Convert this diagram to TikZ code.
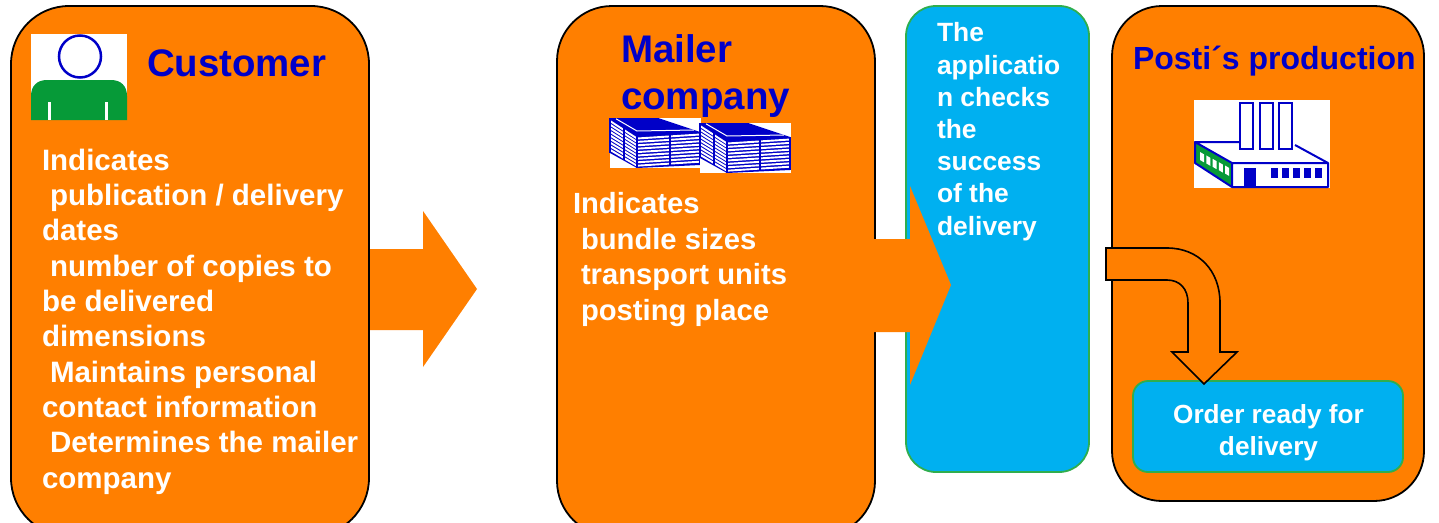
\documentclass[tikz,border=0pt]{standalone}
\usepackage{fontspec}
\setmainfont{Liberation Sans}
\definecolor{orangeF}{HTML}{FF7F00}
\definecolor{skyF}{HTML}{00B0F0}
\definecolor{greenB}{HTML}{2FAE4E}
\definecolor{greenF}{HTML}{069A38}
\definecolor{navyT}{HTML}{0000C8}
\newcommand{\fsz}[2]{\fontsize{#1}{#2}\selectfont\bfseries}
\newcommand{\ind}{\hspace*{8pt}}
\newcommand{\bundlepic}[2]{%
  \begin{scope}[shift={(#1,#2)}]
    \fill[white] (0,0) rectangle (91,50);
    \fill[navyT] (0,0) -- (48,0) -- (90,14) -- (90,47) -- (27,50) -- (0,35) -- cycle;
    \foreach \k in {0,1,...,8}{
      \draw[white,line width=1.9pt] (0,3+3.6*\k) -- (27,20.5+3.4*\k) -- (90,16.5+3.4*\k);
    }
    \draw[white,line width=1pt] (6,0.8) -- (27,13) -- (84,12);
    \draw[navyT,line width=2pt] (14,10) -- (14,42) (27,17) -- (27,50) (60,16) -- (60,48);
    \draw[navyT,line width=1.4pt] (0,0) -- (0,35) (90,14) -- (90,47);
  \end{scope}}
\tikzset{
  x=1pt,y=-1pt,
  every node/.style={inner sep=0pt,outer sep=0pt},
  bigbox/.style={draw=black,line width=1.8pt,fill=orangeF,rounded corners=#1,anchor=north west},
  bigbox/.default=55pt,
  skybox/.style={draw=greenB,line width=1.8pt,fill=skyF,rounded corners=#1,anchor=north west},
  bodytext/.style={text=white,align=left,anchor=base west},
  titletext/.style={text=navyT,align=left,anchor=base west},
  thinline/.style={draw=black,line width=1.6pt,fill=orangeF,line join=miter},
}
\begin{document}
\begin{tikzpicture}
\clip (0,0) rectangle (1439,522);
\fill[white] (0,0) rectangle (1439,522);
% panels
\node[bigbox=58pt,minimum width=358pt,minimum height=530pt] (customer) at (11,6) {};
\node[bigbox=55pt,minimum width=318pt,minimum height=530pt] (mailer) at (557,6) {};
\node[skybox=30pt,minimum width=183pt,minimum height=466pt] (app) at (906,6) {};
\node[bigbox=50pt,minimum width=312pt,minimum height=495pt] (posti) at (1112,6) {};
\node[skybox=15pt,minimum width=270pt,minimum height=91pt] (order) at (1133,381) {};
% block arrows
\coordinate (a1) at (370.2,289);
\fill[orangeF] (a1) ++(0,-40) -- (423,249) -- (423,211) -- (477,289) -- (423,367) -- (423,330) -- (370.2,330) -- cycle;
\coordinate (a2) at (873,285);
\fill[orangeF] (a2) ++(0,-46) -- (910,239) -- (910,186) -- (951,285) -- (910,385) -- (910,332) -- (873,332) -- cycle;
% curved arrow
\coordinate (c1) at (1106,248);
\coordinate (c2) at (1204,384);
\path[thinline] (c1) -- (1167,248) .. controls (1199,248) and (1220,271) .. (1220,303) -- (1220,352) -- (1237,352) -- (c2) -- (1172,352) -- (1188,352) -- (1188,303) .. controls (1188,289) and (1180,280) .. (1167,280) -- (1106,280) -- cycle;
% person icon
\fill[white] (31,34) rectangle (127,120);
\draw[navyT,line width=2.5pt] (80,56.5) circle (21);
\fill[greenF] (31,120) -- (31,96) .. controls (31,86) and (37,80) .. (47,80) -- (111,80) .. controls (121,80) and (127,86) .. (127,96) -- (127,120) -- cycle;
\fill[white] (48,102) rectangle (51,120);
\fill[white] (104.5,102) rectangle (107.5,120);
% bundles
\bundlepic{610}{118}
\bundlepic{700}{123}
% factory
\fill[white] (1194,100) rectangle (1330,188);
\fill[greenF] (1195,142) -- (1232,163) -- (1232,187) -- (1195,163) -- cycle;
\foreach \k in {0,1,2,3,4}{
  \fill[white] (1200+6.3*\k,152+3.4*\k) -- ++(4,2.4) -- ++(0,8) -- ++(-4,-2.4) -- cycle;
}
\draw[navyT,line width=2pt,line join=round] (1195,142) -- (1240,142) (1295,145) -- (1328,163) -- (1328,187) -- (1232,187) -- (1195,163) -- (1195,142) -- (1232,163) -- (1232,187) (1232,163) -- (1328,163);
\foreach \cx in {1240,1260,1279}{
  \draw[navyT,line width=1.6pt,fill=white] (\cx,103) rectangle (\cx+13,149);
  \fill[navyT] (\cx+1,101.5) rectangle (\cx+12,103);
}
\fill[navyT] (1244,168) rectangle (1256,187);
\foreach \wx in {1271,1282,1293,1304,1315}{
  \fill[navyT] (\wx,168) rectangle (\wx+7,178);
}
% titles
\node[titletext,font=\fsz{38.4}{46}] (tcustomer) at (147,76) {Customer};
\node[titletext,font=\fsz{38.5}{47}] (tmailer) at (621,109) {Mailer\\company};
\node[titletext,font=\fsz{32}{38}] (tposti) at (1133,69) {Posti´s production};
% body texts
\node[bodytext,font=\fsz{29.5}{35.3}] (bcustomer) at (42,488) {Indicates\\
\ind publication / delivery\\
dates\\
\ind number of copies to\\
be delivered\\
dimensions\\
\ind Maintains personal\\
contact information\\
\ind Determines the mailer\\
company};
\node[bodytext,font=\fsz{29.2}{35.5}] (bmailer) at (573,320) {Indicates\\
\ind bundle sizes\\
\ind transport units\\
\ind posting place};
\node[bodytext,font=\fsz{26.4}{32.2}] (bapp) at (937,235) {The\\
applicatio\\
n checks\\
the\\
success\\
of the\\
delivery};
\node[bodytext,align=center,anchor=base,font=\fsz{26.2}{32}] (border) at (1268.5,455) {Order ready for\\delivery};
\end{tikzpicture}
\end{document}
